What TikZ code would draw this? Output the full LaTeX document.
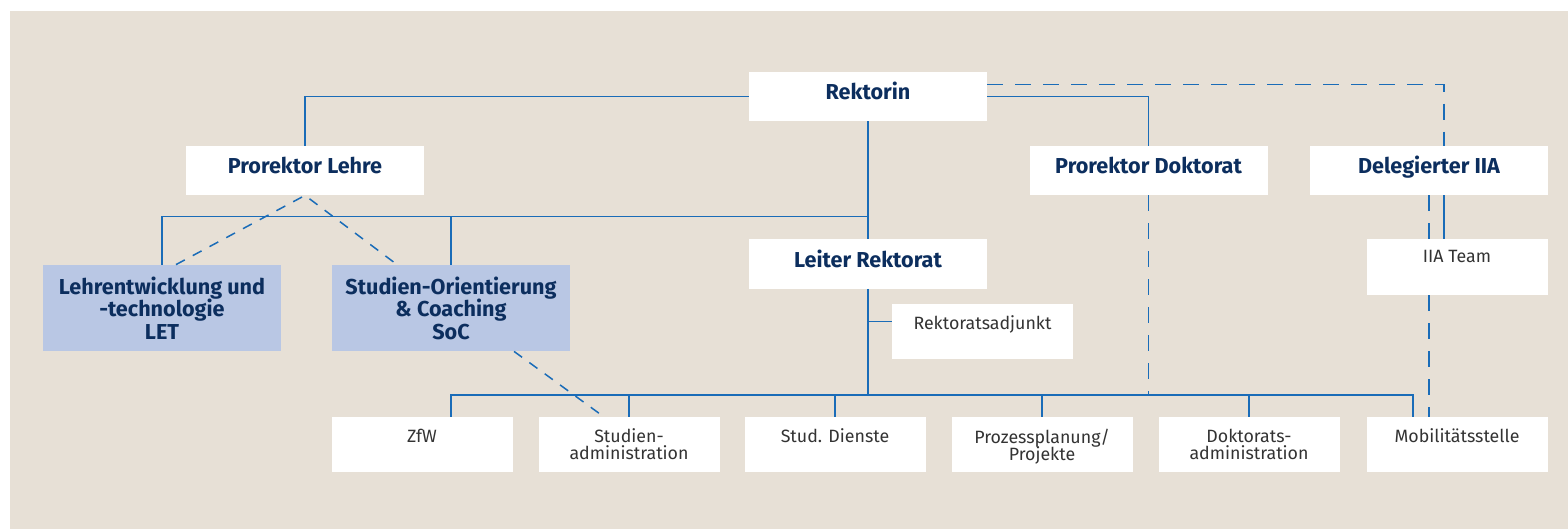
\documentclass[tikz,border=0pt]{standalone}
\usepackage{fontspec}
\setmainfont{Fira Sans}
\usetikzlibrary{positioning,calc}
\definecolor{beige}{HTML}{E7E0D6}
\definecolor{navy}{HTML}{0C2E5E}
\definecolor{linie}{HTML}{1A6CB8}
\definecolor{hellblau}{HTML}{B9C7E4}
\definecolor{textgrau}{HTML}{333333}
\newcommand{\engzeilen}{\lineskiplimit=-5pt\relax}

\begin{document}
\begin{tikzpicture}[x=0.5pt,y=-0.5pt,
  bigbox/.style={fill=white,minimum width=119pt,minimum height=24.5pt,inner sep=0pt,
    font={\bfseries\fontsize{10.8}{11.25}\selectfont\engzeilen},text=navy,align=center},
  hochtext/.style={text height=8pt,text depth=4.5pt},
  bluebox/.style={bigbox,fill=hellblau,minimum height=43pt},
  smallbox/.style={fill=white,minimum width=90.5pt,minimum height=27.5pt,inner sep=0pt},
  smalltext/.style={inner sep=0pt,font={\fontsize{8.9}{8.6}\selectfont\engzeilen},
    text=textgrau,align=center},
  conn/.style={draw=linie,line width=0.75pt},
  dashconn/.style={conn,dash pattern=on 8pt off 6pt},
  diagconn/.style={conn,dash pattern=on 5pt off 4.5pt}]
  \useasboundingbox (0,0) rectangle (1568,529);
  \fill[white] (0,0) rectangle (1568,529);
  \fill[beige] (10,11) rectangle (1568,529);

  % obere Ebene
  \node[bigbox,hochtext] (rektorin) at (868,96.5) {Rektorin};
  \node[bigbox,hochtext] (prolehre) at (305,170.5) {Prorektor Lehre};
  \node[bigbox,hochtext] (prodok) at (1148.5,170.5) {Prorektor Doktorat};
  \node[bigbox,hochtext] (deleg) at (1429,170.5) {Delegierter IIA};
  \node[bigbox,hochtext] (leiter) at (868,264) {Leiter Rektorat};
  \node[bluebox] (let) at (162,308) {Lehrentwicklung und\\-technologie\\LET};
  \node[bluebox] (soc) at (451,308) {Studien-Orientierung\\\& Coaching\\SoC};
  \node[smallbox] (adjunkt) at (982.5,331.3) {};
  \node[smallbox,minimum height=28pt] (iiateam) at (1457,267) {};

  % untere Ebene
  \node[smallbox] (zfw) at (422,444.8) {};
  \node[smallbox] (studadm) at (629,444.8) {};
  \node[smallbox] (dienste) at (835,444.8) {};
  \node[smallbox] (prozess) at (1042,444.8) {};
  \node[smallbox] (doktadm) at (1249,444.8) {};
  \node[smallbox] (mobil) at (1457,444.8) {};

  \node[smalltext,below=5.8pt of adjunkt.north] (adjunkttext) {Rektoratsadjunkt};
  \node[smalltext,below=5.8pt of iiateam.north] (iiatext) {IIA Team};
  \node[smalltext,below=5.8pt of zfw.north] (zfwtext) {ZfW};
  \node[smalltext,below=5.8pt of studadm.north] (studadmtext) {Studien-\\administration};
  \node[smalltext,below=5.8pt of dienste.north] (dienstetext) {Stud. Dienste};
  \node[smalltext,below=5.8pt of prozess.north] (prozesstext) {Prozessplanung/\\Projekte};
  \node[smalltext,below=5.8pt of doktadm.north] (doktadmtext) {Doktorats-\\administration};
  \node[smalltext,below=5.8pt of mobil.north] (mobiltext) {Mobilitätsstelle};

  \coordinate (lbus) at (868,216.5);
  \coordinate (busL) at (451,395);
  \coordinate (busR) at (1413,395);

  % Linien
  \draw[conn] (rektorin.west) -| (prolehre.north);
  \draw[conn] (rektorin.east) -| (prodok.north);
  \draw[conn] (rektorin.south) -- (leiter.north);
  \draw[conn] (let.north) |- (lbus);
  \draw[conn] (soc.north) -- (soc.north |- lbus);
  \draw[conn] (leiter.south) -- (leiter.south |- busL);
  \draw[conn] ($(adjunkt.north west)+(0,18)$) -- (leiter.south |- {$(adjunkt.north west)+(0,18)$});
  \draw[conn] (busL |- zfw.north) -- (busL) -- (busR) -- (busR |- mobil.north);
  \foreach \n in {studadm,dienste,prozess,doktadm}
    \draw[conn] (\n.north) -- (\n.north |- busL);
  \draw[conn] ($(deleg.south)+(15,0)$) -- ($(iiateam.north)+(-13,0)$);

  % gestrichelt
  \draw[dashconn] ($(rektorin.north east)+(0,12.7)$) -| ($(deleg.north)+(15,0)$);
  \draw[dashconn] (prodok.south) -- (prodok.south |- busL);
  \draw[dashconn] (deleg.south) -- ($(iiateam.north)+(-28,0)$);
  \draw[dashconn] ($(iiateam.south)+(-28,0)$) -- ($(mobil.north)+(-28,0)$);
  \draw[diagconn] ($(let.north)+(14,0)$) -- (prolehre.south) -- ($(soc.north)+(-54,0)$);
  \draw[diagconn] ($(soc.south)+(63,0)$) -- ($(studadm.north)+(-25,0)$);
\end{tikzpicture}
\end{document}
